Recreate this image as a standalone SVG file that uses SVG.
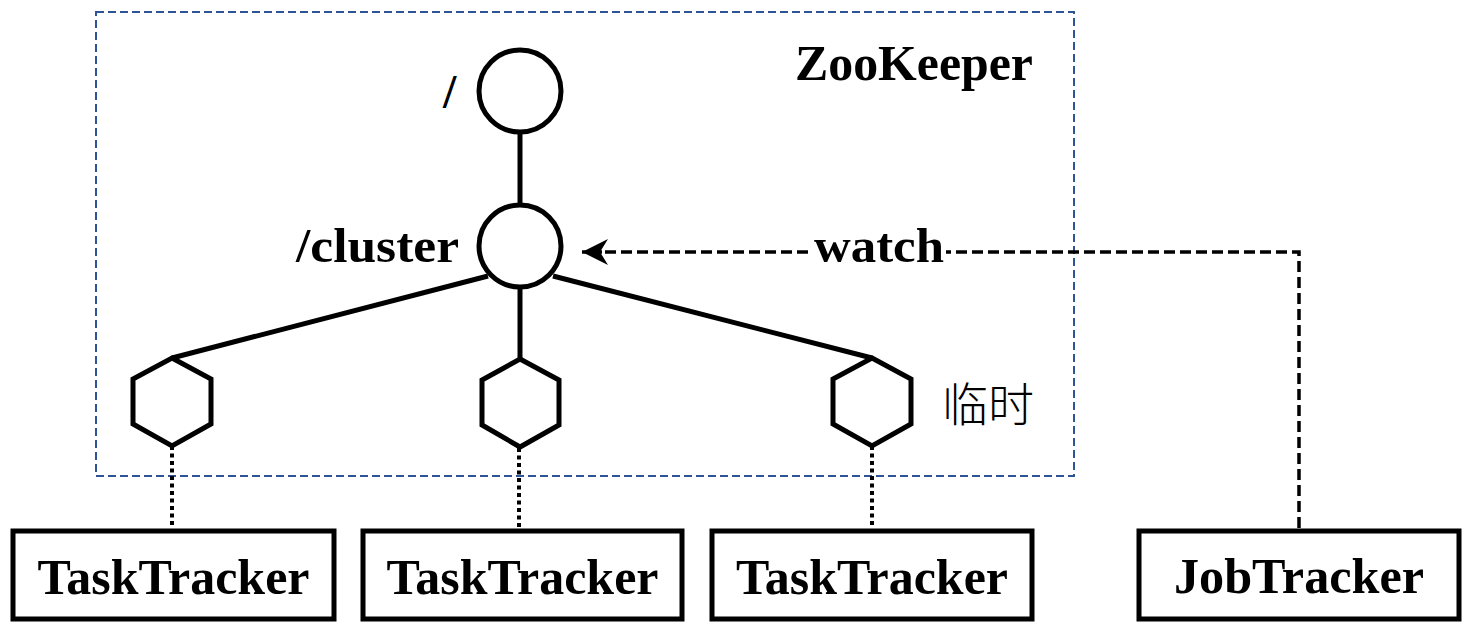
<svg xmlns="http://www.w3.org/2000/svg" width="1470" height="626" viewBox="0 0 1470 626">
<style>
.lbl{font-family:"Liberation Serif","Times New Roman",serif;font-weight:bold;fill:#000}
.node{fill:#fff;stroke:#000;stroke-width:5}
.box{fill:#fff;stroke:#000;stroke-width:5}
.edge{stroke:#000;stroke-width:5;fill:none}
.dot{stroke:#000;stroke-width:4;stroke-dasharray:4 3.5;fill:none}
.watch{stroke:#000;stroke-width:3.5;stroke-dasharray:11 5;fill:none}
</style>
<defs>
<marker id="arr" viewBox="0 0 28 28" refX="27" refY="14" markerWidth="28" markerHeight="28" markerUnits="userSpaceOnUse" orient="auto">
<path d="M27,14 L1,1 L9,14 L1,27 Z" fill="#000"/>
</marker>
</defs>
<rect width="1470" height="626" fill="#fff"/>
<g id="zookeeper">
<rect x="96" y="12" width="978" height="464" fill="none" stroke="#2F5496" stroke-width="2" stroke-dasharray="8 4"/>
<text class="lbl" x="795" y="80" font-size="50" textLength="238" lengthAdjust="spacingAndGlyphs">ZooKeeper</text>
</g>
<g id="connectors">
<line class="edge" x1="520" y1="132" x2="520" y2="206"/>
<line class="edge" x1="488" y1="276" x2="172" y2="358"/>
<line class="edge" x1="520" y1="286" x2="520" y2="359"/>
<line class="edge" x1="553" y1="276" x2="872" y2="358"/>
<line class="dot" x1="172" y1="446" x2="172" y2="528"/>
<line class="dot" x1="519" y1="448" x2="519" y2="528"/>
<line class="dot" x1="872" y1="446" x2="872" y2="528"/>
<path class="watch" d="M1299,528 L1299,252 L946,252"/>
<path class="watch" d="M808,252 L602,252"/>
<line x1="602" y1="252" x2="582" y2="252" stroke="#000" stroke-width="3.5" marker-end="url(#arr)"/>
<text class="lbl" x="814" y="262" font-size="48" textLength="130" lengthAdjust="spacingAndGlyphs">watch</text>
</g>
<g id="root">
<circle class="node" cx="520" cy="91" r="41"/>
<text class="lbl" x="443" y="108" font-size="48">/</text>
</g>
<g id="cluster">
<circle class="node" cx="520" cy="246" r="41"/>
<text class="lbl" x="296" y="262" font-size="48" textLength="163" lengthAdjust="spacingAndGlyphs">/cluster</text>
</g>
<g id="eph1">
<polygon class="node" points="172,358 211,379 211,424 172,446 133,424 133,379"/>
</g>
<g id="eph2">
<polygon class="node" points="520,359 559,380 559,425 520,447 482,425 482,380"/>
</g>
<g id="eph3">
<polygon class="node" points="872,358 911,379 911,424 872,446 833,424 833,379"/>
<text x="942" y="421" font-size="46" font-family="'Noto Sans CJK SC',sans-serif" font-weight="300" fill="#000">临时</text>
</g>
<g id="tt1">
<rect class="box" x="13" y="531" width="321" height="88"/>
<text class="lbl" x="173.5" y="594" font-size="50" text-anchor="middle" textLength="272" lengthAdjust="spacingAndGlyphs">TaskTracker</text>
</g>
<g id="tt2">
<rect class="box" x="363" y="531" width="319" height="88"/>
<text class="lbl" x="522.5" y="594" font-size="50" text-anchor="middle" textLength="272" lengthAdjust="spacingAndGlyphs">TaskTracker</text>
</g>
<g id="tt3">
<rect class="box" x="712" y="531" width="320" height="88"/>
<text class="lbl" x="872" y="594" font-size="50" text-anchor="middle" textLength="272" lengthAdjust="spacingAndGlyphs">TaskTracker</text>
</g>
<g id="jt">
<rect class="box" x="1139" y="531" width="320" height="88"/>
<text class="lbl" x="1299" y="593" font-size="50" text-anchor="middle" textLength="250" lengthAdjust="spacingAndGlyphs">JobTracker</text>
</g>
</svg>
